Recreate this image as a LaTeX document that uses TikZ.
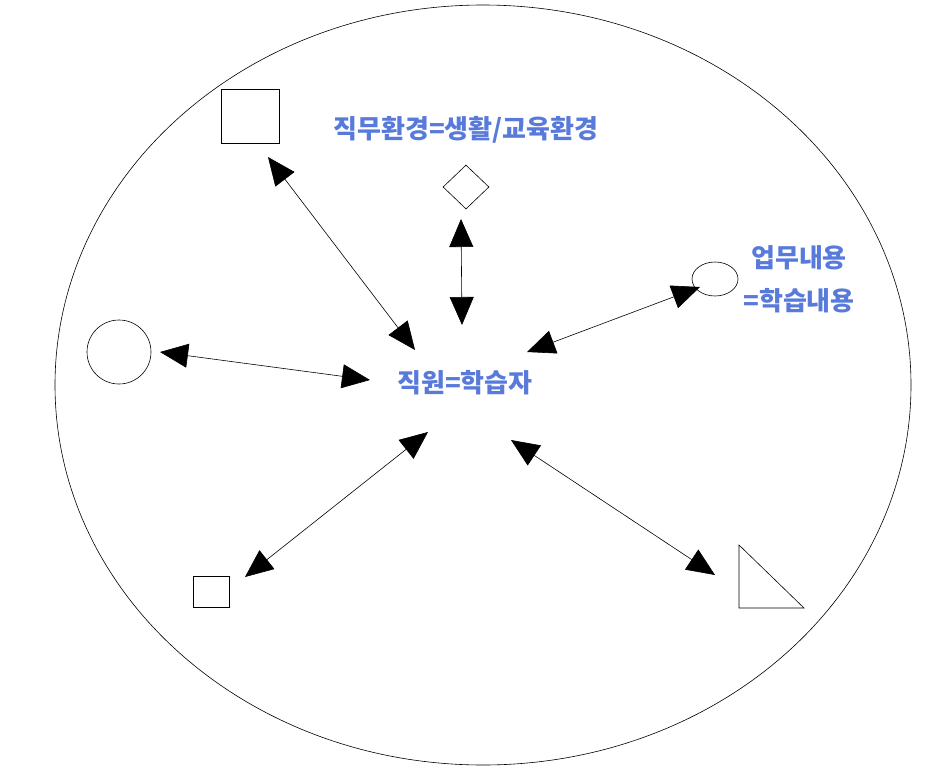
\documentclass[tikz,border=0pt]{standalone}
\usepackage{fontspec}
\setmainfont{Noto Sans CJK KR}
\usetikzlibrary{arrows.meta,shapes.geometric}
\definecolor{lbl}{RGB}{88,122,218}
\begin{document}
\begin{tikzpicture}[x=1pt,y=-1pt,line width=0.6pt,
  shp/.style={draw,inner sep=0pt},
  lab/.style={text=lbl,font=\bfseries\fontsize{26}{43}\selectfont,align=center},
  dbl/.style={{Triangle[length=28pt,width=24pt]}-{Triangle[length=28pt,width=24pt]}}]
\useasboundingbox (0,0) rectangle (926,768);
\draw (483,385) ellipse [x radius=428,y radius=380];
\node[shp,minimum width=58pt,minimum height=54pt] (sq1) at (250,116) {};
\node[shp,diamond,minimum width=46pt,minimum height=44pt] (dia) at (466,187) {};
\node[shp,ellipse,minimum width=46pt,minimum height=34pt] (ell) at (715,279) {};
\node[shp,circle,minimum size=64pt] (cir) at (119,352) {};
\node[shp,minimum width=36pt,minimum height=31pt] (sq2) at (211,592) {};
\draw (739,545) coordinate (t1) -- (739,608) -- (804,608) -- cycle;
\node[lab] (env) at (466,130) {직무환경=생활/교육환경};
\node[lab] (job) at (799,279) {업무내용\\=학습내용};
\node[lab] (me) at (465,383) {직원=학습자};
\coordinate (a1) at (268,157); \coordinate (b1) at (415,350);
\coordinate (a2) at (461,219); \coordinate (b2) at (462,325);
\coordinate (a3) at (700,287); \coordinate (b3) at (527,352);
\coordinate (a4) at (160,352); \coordinate (b4) at (370,380);
\coordinate (a5) at (245,577); \coordinate (b5) at (428,432);
\coordinate (a6) at (715,575); \coordinate (b6) at (511,440);
\draw[dbl] (a1) -- (b1);
\draw[dbl] (a2) -- (b2);
\draw[dbl] (a3) -- (b3);
\draw[dbl] (a4) -- (b4);
\draw[dbl] (a5) -- (b5);
\draw[dbl] (a6) -- (b6);
\end{tikzpicture}
\end{document}
